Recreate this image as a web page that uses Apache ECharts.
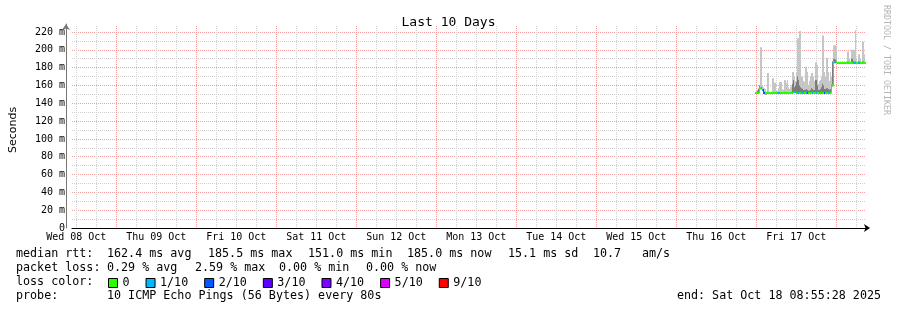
<!DOCTYPE html>
<html>
<head>
<meta charset="utf-8">
<script src="https://cdn.jsdelivr.net/npm/echarts@6/dist/echarts.min.js"></script>
<style>html,body{margin:0;padding:0;background:#fff}#c{width:897px;height:310px}</style>
</head>
<body>
<div id="c"></div>
<script>
// ---- data (hours since Wed 08 Oct 00:00) ----
const T_START = 8 + 55 / 60 + 28 / 3600;   // Wed 08 Oct 08:55:28
const T_SPAN = 240;                        // 10 days
const DAY_LABELS = ['Wed 08 Oct', 'Thu 09 Oct', 'Fri 10 Oct', 'Sat 11 Oct', 'Sun 12 Oct',
  'Mon 13 Oct', 'Tue 14 Oct', 'Wed 15 Oct', 'Thu 16 Oct', 'Fri 17 Oct'];
const Y_MIN = 0, Y_MAX = 220, Y_STEP = 20;
const SAMPLE_START = 215.6;   // first sample (hours)
const SAMPLE_STEP = 0.3;      // 18 min per sample
const LOSS_NAMES = ['0', '1/10', '2/10', '3/10', '4/10', '5/10', '9/10'];
const LOSS_LEVELS = [0, 1, 2, 3, 4, 5, 9];
const LOSS_COLORS = ['#26ff00', '#00b8ff', '#0059ff', '#5e00ff', '#7e00ff', '#dd00ff', '#ff0000'];

const median = [
  151.5,151.5,151.5,152,157,157,157,155,151.5,151.5,
  151,151,151.5,151.5,151.5,151.5,151.5,151.5,151.5,151.5,
  151.5,151.5,151.5,151.5,151.5,151.5,151.5,151.5,151.5,151.5,
  151.5,151.5,151.5,151.5,151.5,151.5,151.5,152,153,153,
  153,152,152,152,152,152,151.5,151.5,152,151.5,
  151.5,151.5,151.5,151.5,151.5,151.5,151.5,151.5,151.5,151.5,
  152,152,152,151.5,151.5,151.5,151.5,152,152,151.5,
  151.5,151.5,151.5,151.5,151.5,151.5,160,160,186,186,
  186,186,185.5,185.5,185.5,185.5,185.5,185.5,185.5,185.5,
  185.5,185.5,185.5,185.5,185.5,185.5,185.5,185.5,185.5,185.5,
  185.5,185.5,185.5,185.5,185.5,185.5,185.5,185.5,185.5,185.5,
  185.5,185.5
];
const smokeMax = [
  152,153,155,157,160,203,203,160,158,157,
  156,153,174,174,153,152,153,168,168,163,
  163,155,154,157,164,164,164,156,155,166,
  166,163,166,158,156,158,160,175,175,170,
  165,174,213,213,221,221,170,170,165,164,
  181,181,175,160,165,170,174,174,170,165,
  186,186,183,162,165,166,170,216,216,175,
  170,191,191,175,165,175,170,187,205,205,
  205,204,186,187,186,187,186,187,186,187,
  186,187,198,198,190,187,200,200,200,200,
  222,222,190,187,195,195,190,187,209,209,
  195,186
];
const smokeDark = [
  152,153,154,156,160,158,156,155,154,153,
  152,152,153,152,152,152,152,152,152,152,
  152,152,152,152,152,152,152,152,152,153,
  152,152,152,152,152,152,153,162,166,158,
  160,164,170,166,160,158,157,156,155,155,
  155,156,155,154,154,155,157,156,155,155,
  166,166,160,155,155,156,158,162,160,156,
  156,157,157,156,155,156,160,187,189,190,
  189,188,186,186,186,186,186,186,186,186,
  186,186,187,187,186,186,190,190,187,187,
  187,187,186,186,187,187,186,186,187,187,
  186,186
];
const lossCount = [
  0,0,0,0,0,0,1,1,2,2,
  0,0,0,0,0,0,0,0,0,0,
  0,0,1,1,1,0,0,0,0,0,
  0,0,0,0,0,0,0,0,1,1,
  1,0,1,1,0,0,1,1,1,0,
  0,1,2,0,0,0,0,1,0,0,
  0,1,0,0,1,0,1,0,0,2,
  1,0,0,1,1,0,0,0,0,1,
  1,0,0,0,0,0,0,0,0,0,
  0,0,0,0,0,0,0,0,1,1,
  1,0,0,0,1,1,0,0,0,0,
  0,0
];

// ---- build series data ----
const smokeData = median.map((m, i) => [SAMPLE_START + i * SAMPLE_STEP, smokeMax[i], smokeDark[i], m]);
const lossSeriesData = LOSS_LEVELS.map(() => []);
median.forEach((m, i) => {
  const k = LOSS_LEVELS.indexOf(lossCount[i]);
  lossSeriesData[k].push([SAMPLE_START + i * SAMPLE_STEP, m, i > 0 ? median[i - 1] : m]);
});

function colBounds(api, t) {
  const xa = Math.round(api.coord([t - SAMPLE_STEP / 2, 0])[0]);
  const xb = Math.round(api.coord([t + SAMPLE_STEP / 2, 0])[0]);
  return [xa, Math.max(1, xb - xa)];
}
function renderSmoke(params, api) {
  const t = api.value(0);
  const [xa, w] = colBounds(api, t);
  const yMed = api.coord([t, api.value(3)])[1];
  const yHi = api.coord([t, api.value(1)])[1];
  const yDk = api.coord([t, api.value(2)])[1];
  return {
    type: 'group', children: [
      { type: 'rect', shape: { x: xa, y: yHi, width: w, height: yMed - yHi + 1 }, style: { fill: '#c6c6c6' } },
      { type: 'rect', shape: { x: xa, y: yDk, width: w, height: yMed - yDk + 1 }, style: { fill: '#7c7c7c' } }
    ]
  };
}
function renderMedian(params, api) {
  const t = api.value(0);
  const [xa, w] = colBounds(api, t);
  const y = api.coord([t, api.value(1)])[1];
  const yp = api.coord([t, api.value(2)])[1];
  const color = api.visual('color');
  const children = [{ type: 'rect', shape: { x: xa, y: Math.round(y) - 1, width: w, height: 2 }, style: { fill: color } }];
  if (Math.abs(yp - y) > 2) {
    const top = Math.min(y, yp), bot = Math.max(y, yp);
    children.push({ type: 'rect', shape: { x: xa, y: Math.round(top) - 1, width: 1, height: bot - top + 2 }, style: { fill: color } });
  }
  return { type: 'group', children };
}

const MONO = '"DejaVu Sans Mono", monospace';
const LF = '11.7px ' + MONO;
function txt(x, y, s, align) {
  return { type: 'text', x, y, z: 10, style: { text: s, font: LF, fill: '#000', align: align || 'left', verticalAlign: 'middle' } };
}

const series = [{
  type: 'custom', name: 'smoke', xAxisIndex: 0, yAxisIndex: 0,
  renderItem: renderSmoke, data: smokeData, encode: { x: 0, y: [1, 2, 3] }, silent: true, z: 3
}].concat(LOSS_NAMES.map((n, k) => ({
  type: 'custom', name: n, xAxisIndex: 0, yAxisIndex: 0,
  itemStyle: { color: LOSS_COLORS[k] },
  renderItem: renderMedian, data: lossSeriesData[k], encode: { x: 0, y: [1, 2] }, silent: true, z: 4
})));

const chart = echarts.init(document.getElementById('c'), null, { renderer: 'canvas' });
chart.setOption({
  backgroundColor: '#ffffff',
  animation: false,
  title: {
    text: 'Last 10 Days', left: 'center', top: 11,
    textStyle: { fontFamily: MONO, fontSize: 13, fontWeight: 'normal', color: '#000' }
  },
  legend: {
    data: LOSS_NAMES, left: 108, top: 277, padding: 0, itemGap: 16, itemWidth: 9, itemHeight: 9,
    icon: 'rect', selectedMode: false,
    itemStyle: { borderColor: '#000', borderWidth: 1 },
    textStyle: { fontFamily: MONO, fontSize: 11.7, color: '#000' }
  },
  grid: [
    { left: 66, right: 31, top: 32, bottom: 82 },
    { left: 76.25, right: 40.75, top: 26, bottom: 82 },
    { left: 66, right: 31, top: 24, bottom: 82 }
  ],
  xAxis: [
    {
      type: 'value', gridIndex: 0, min: T_START, max: T_START + T_SPAN,
      axisLine: { show: true, symbol: ['none', 'arrow'], symbolSize: [6, 6], symbolOffset: [0, 4], lineStyle: { color: '#000', width: 1 } },
      axisTick: { show: false }, axisLabel: { show: false }, splitLine: { show: false }
    },
    {
      type: 'value', gridIndex: 1, min: 12, max: 246, interval: 6,
      axisLine: { show: false }, axisTick: { show: false },
      axisLabel: {
        show: true, margin: 4, fontFamily: MONO, fontSize: 10, color: '#000',
        showMaxLabel: false,
        formatter: v => ((v - 12) % 24 === 0) ? (DAY_LABELS[(v - 12) / 24] || '') : ''
      },
      splitLine: { show: true, lineStyle: { color: ['#d0d0d0', '#d0d0d0', '#f5a0a0', '#d0d0d0'], type: [1, 1], width: 1 } }
    },
    { type: 'value', gridIndex: 2, show: false, min: 0, max: 1 }
  ],
  yAxis: [
    {
      type: 'value', gridIndex: 0, min: Y_MIN, max: Y_MAX, interval: Y_STEP,
      name: 'Seconds', nameLocation: 'middle', nameGap: 53, nameRotate: 90,
      nameTextStyle: { fontFamily: '"DejaVu Sans", sans-serif', fontSize: 11, color: '#000' },
      axisLine: { show: false }, axisTick: { show: false },
      axisLabel: { margin: 7, fontFamily: MONO, fontSize: 10, color: '#000', formatter: v => v === 0 ? '0' : v + ' m' },
      splitLine: { show: true, lineStyle: { color: '#f5a0a0', type: [1, 1], width: 1 } },
      minorTick: { show: false, splitNumber: 2 },
      minorSplitLine: { show: true, lineStyle: { color: '#d0d0d0', type: [1, 1], width: 1 } }
    },
    { type: 'value', gridIndex: 1, show: false, min: 0, max: 1, splitLine: { show: false } },
    {
      type: 'value', gridIndex: 2, min: 0, max: 1,
      axisLine: { show: true, symbol: ['none', 'arrow'], symbolSize: [6, 6], lineStyle: { color: '#777', width: 1 } },
      axisTick: { show: false }, axisLabel: { show: false }, splitLine: { show: false }
    }
  ],
  graphic: [
    txt(16, 254, 'median rtt:'),
    txt(107, 254, '162.4 ms avg'),
    txt(208, 254, '185.5 ms max'),
    txt(308, 254, '151.0 ms min'),
    txt(407, 254, '185.0 ms now'),
    txt(508, 254, '15.1 ms sd'),
    txt(593, 254, '10.7'),
    txt(642, 254, 'am/s'),
    txt(16, 268, 'packet loss:'),
    txt(107, 268, '0.29 % avg'),
    txt(195, 268, '2.59 % max'),
    txt(279, 268, '0.00 % min'),
    txt(366, 268, '0.00 % now'),
    txt(16, 282, 'loss color:'),
    txt(16, 296, 'probe:'),
    txt(107, 296, '10 ICMP Echo Pings (56 Bytes) every 80s'),
    txt(881, 296, 'end: Sat Oct 18 08:55:28 2025', 'right'),
    {
      type: 'text', x: 886, y: 5, rotation: -Math.PI / 2, z: 10,
      style: { text: 'RRDTOOL / TOBI OETIKER', font: '8.3px ' + MONO, fill: '#b4b4b4', align: 'left', verticalAlign: 'middle' }
    }
  ],
  series
});
</script>
</body>
</html>
